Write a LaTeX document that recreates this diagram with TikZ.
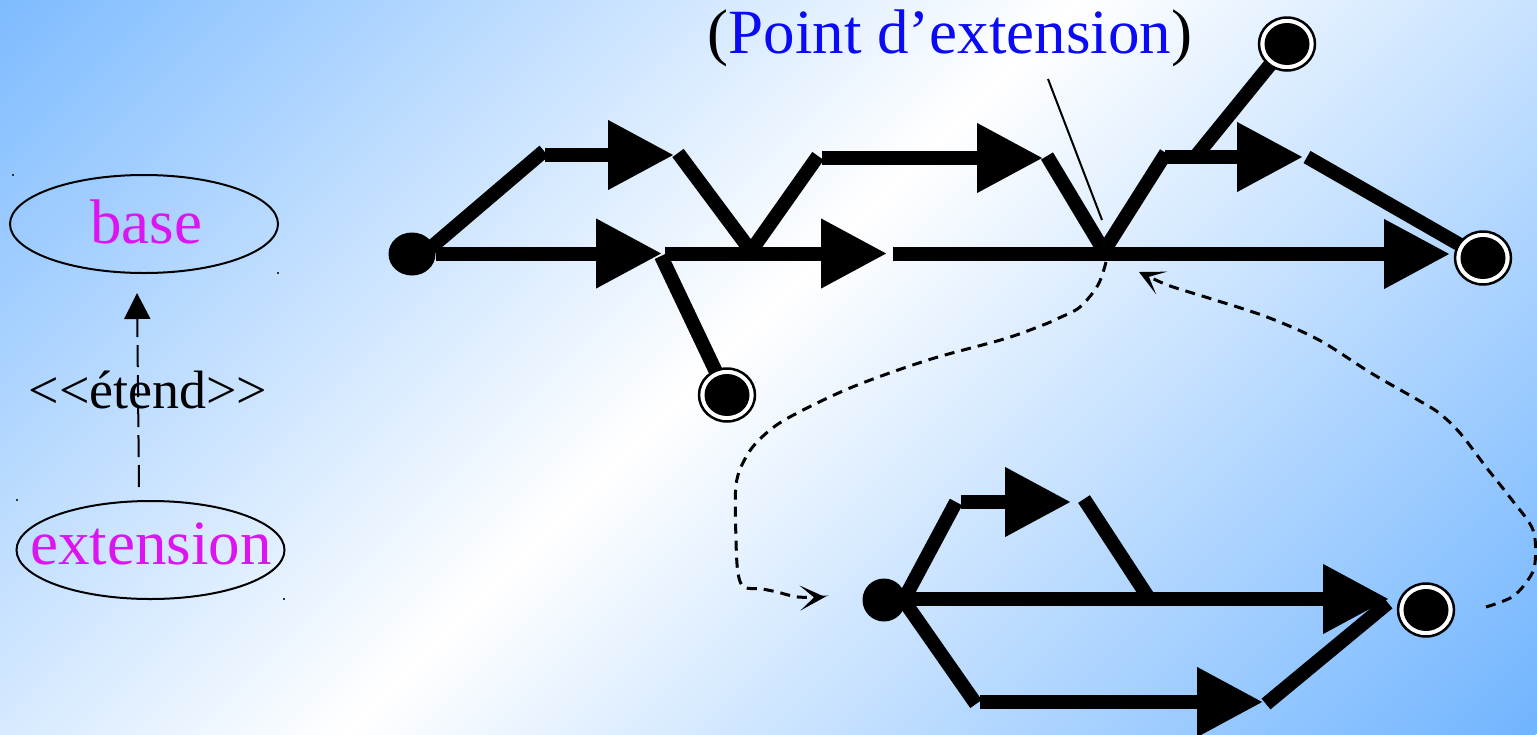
\documentclass[tikz,border=0pt]{standalone}
\usepackage{fontspec}
\setmainfont{Liberation Serif}
\usetikzlibrary{arrows.meta,shapes.geometric}
\definecolor{bgblue}{RGB}{112,180,255}
\definecolor{magentatxt}{RGB}{220,20,240}
\definecolor{bluetxt}{RGB}{10,10,245}
\tikzset{
  seg/.style={line width=14pt, line cap=butt, black},
  bigarrow/.style={-{Triangle[length=66pt,width=66pt]}},
  startstate/.style={ellipse, fill=black, inner sep=0pt, minimum width=47pt, minimum height=43pt},
  finalring/.style={ellipse, draw=black, line width=2.5pt, fill=white, inner sep=0pt, minimum width=56pt, minimum height=53pt},
  finaldot/.style={ellipse, fill=black, inner sep=0pt, minimum width=45pt, minimum height=42pt},
  flowcurve/.style={line width=3pt, dash pattern=on 10pt off 7pt, -{Stealth[length=25pt,width=25pt,inset=14pt]}},
  usecase/.style={ellipse, draw=black, line width=2pt, minimum width=268pt, minimum height=98pt, inner sep=0pt},
  bigtxt/.style={font=\fontsize{63}{70}\selectfont, inner sep=0pt, anchor=base},
  midtxt/.style={font=\fontsize{54}{60}\selectfont, inner sep=0pt, anchor=base},
  speck/.style={fill=black!80}
}
\begin{document}
\begin{tikzpicture}[x=1pt,y=1pt]
\useasboundingbox (0,0) rectangle (1537,-734);
% background
\begin{scope}
  \clip (0,0) rectangle (1537,-734);
  \fill[bgblue] (0,0) rectangle (1537,-734);
  \begin{scope}[transform canvas={rotate around={-45:(711,-367)}}]
    \shade[left color=bgblue, right color=bgblue, middle color=white] (-132,-1667) rectangle (1554,933);
  \end{scope}
\end{scope}

% ---------- left: use cases ----------
\node[usecase] (ucbase) at (144,-224) {};
\node[usecase] (ucext) at (150.5,-550) {};
\node[bigtxt, text=magentatxt] (tbase) at (146,-243) {base};
\node[bigtxt, text=magentatxt] (text) at (151,-564) {extension};
\node[midtxt] (tetend) at (148,-408) {<\kern0pt<étend>\kern0pt>};
\coordinate (ea) at (139,-487);
\coordinate (eb) at (137,-293);
\draw[line width=2pt, dash pattern=on 22pt off 8pt, -{Triangle[length=26pt,width=26pt]}] (ea) -- (eb);
\fill[speck] (12,-174) rectangle (14,-176);
\fill[speck] (277,-272) rectangle (279,-274);
\fill[speck] (16,-499) rectangle (18,-501);
\fill[speck] (283,-598) rectangle (285,-600);

% ---------- top main diagram ----------
\coordinate (s1) at (412,-254);
\coordinate (c1) at (727,-395);
\coordinate (c2) at (1483,-258);
\coordinate (c3) at (1287,-44);
\coordinate (a1) at (436,-253.5);   \coordinate (a1t) at (662,-253.5);
\coordinate (b1) at (428,-250);   \coordinate (b1t) at (544,-151);
\coordinate (h1) at (545,-155);   \coordinate (h1t) at (674,-155);
\coordinate (v1a) at (678,-153);  \coordinate (v1b) at (751,-251); \coordinate (v1c) at (818,-156);
\coordinate (h2) at (822,-158);   \coordinate (h2t) at (1043,-158);
\coordinate (m2) at (665,-253.5);   \coordinate (m2t) at (887,-253.5);
\coordinate (l1) at (661,-256);
\coordinate (m3) at (893,-254);   \coordinate (m3t) at (1450,-254);
\coordinate (v2a) at (1047,-156); \coordinate (v2b) at (1104,-251); \coordinate (v2c) at (1166,-153);
\coordinate (h3) at (1165,-157);  \coordinate (h3t) at (1303,-157);
\coordinate (d3) at (1196,-156);
\coordinate (d4) at (1307,-157);
\coordinate (ta) at (1048,-79);   \coordinate (tb) at (1102,-220);

% ---------- bottom diagram ----------
\coordinate (s2) at (884,-600);
\coordinate (c4) at (1426,-610);
\coordinate (n1) at (898,-599);   \coordinate (n1t) at (1389,-599);
\coordinate (n2) at (902,-603);   \coordinate (n2t) at (956,-502);
\coordinate (n3) at (961,-502);   \coordinate (n3t) at (1071,-502);
\coordinate (n4) at (1084,-499);  \coordinate (n4t) at (1148,-597);
\coordinate (n5) at (902,-598);   \coordinate (n5t) at (976,-704);
\coordinate (n6) at (980,-702);   \coordinate (n6t) at (1263,-702);
\coordinate (n7) at (1266,-704);  \coordinate (n7t) at (1388,-603);

% dashed flow curves
\draw[flowcurve] plot[smooth, tension=0.55] coordinates {(1106,-262) (1098,-285) (1080,-307) (1059,-318) (1043,-325) (1004,-339) (928,-360) (850,-388) (788,-418) (762,-437) (746,-457) (736,-485) (736,-540) (738,-573) (744,-587) (762,-589) (777,-592) (798,-597) (825,-597)};
\draw[flowcurve] plot[smooth, tension=0.55] coordinates {(1486,-607) (1512,-597) (1528,-580) (1535,-563) (1533,-530) (1512,-500) (1486,-467) (1460,-433) (1439,-413) (1418,-400) (1371,-373) (1319,-340) (1267,-317) (1215,-300) (1173,-287) (1158,-281) (1139,-272)};

% thin pointer
\draw[line width=2pt] (ta) -- (tb);

% thick segments, top
\draw[seg, bigarrow] (a1) -- (a1t);
\draw[seg] (b1) -- (b1t);
\draw[seg, bigarrow] (h1) -- (h1t);
\draw[seg] (v1a) -- (v1b);
\draw[seg] (v1b) -- (v1c);
\draw[seg, bigarrow] (h2) -- (h2t);
\draw[seg, bigarrow] (m2) -- (m2t);
\draw[seg] (l1) -- (c1);
\draw[seg, bigarrow] (m3) -- (m3t);
\draw[seg] (v2a) -- (v2b);
\draw[seg] (v2b) -- (v2c);
\draw[seg, bigarrow] (h3) -- (h3t);
\draw[seg] (d3) -- (c3);
\draw[seg] (d4) -- (c2);

% thick segments, bottom
\draw[seg, bigarrow] (n1) -- (n1t);
\draw[seg] (n2) -- (n2t);
\draw[seg, bigarrow] (n3) -- (n3t);
\draw[seg] (n4) -- (n4t);
\draw[seg] (n5) -- (n5t);
\draw[seg, bigarrow] (n6) -- (n6t);
\draw[seg] (n7) -- (n7t);

% states
\node[startstate] (start1) at (s1) {};
\node[startstate, minimum width=43pt] (start2) at (s2) {};
\node[finalring] (f1ring) at (c1) {};
\node[finaldot] (f1) at (c1) {};
\node[finalring] (f2ring) at (c2) {};
\node[finaldot] (f2) at (c2) {};
\node[finalring] (f3ring) at (c3) {};
\node[finaldot] (f3) at (c3) {};
\node[finalring] (f4ring) at (c4) {};
\node[finaldot] (f4) at (c4) {};

% title
\node[bigtxt] (tpoint) at (950,-53) {(\textcolor{bluetxt}{Point d’extension})};
\end{tikzpicture}
\end{document}
